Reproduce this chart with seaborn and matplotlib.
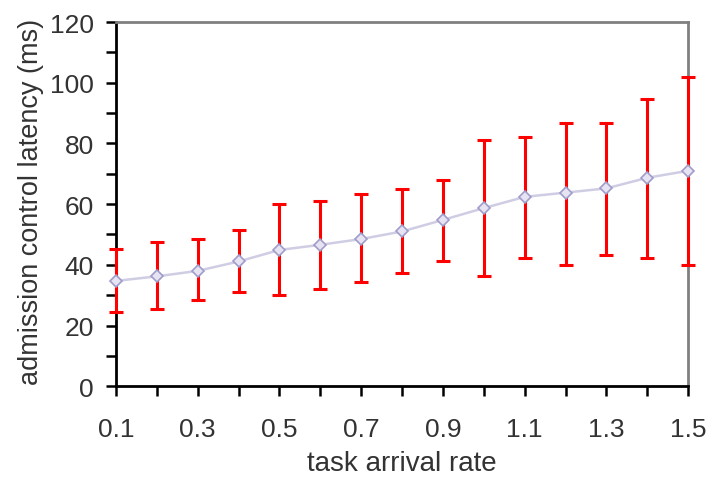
import numpy as np
import pandas as pd
import seaborn as sns
import matplotlib.pyplot as plt
from matplotlib.ticker import MultipleLocator

# values
rate = [0.1, 0.2, 0.3, 0.4, 0.5, 0.6, 0.7, 0.8, 0.9, 1.0, 1.1, 1.2, 1.3, 1.4, 1.5]
latency = [34.7, 36.2, 38.0, 41.1, 44.9, 46.6, 48.5, 51.0, 54.8, 58.7, 62.4, 63.8, 65.2, 68.7, 71.0]
upper = [45.2, 47.4, 48.5, 51.4, 60.2, 61.2, 63.2, 65.1, 68.1, 81.0, 82.1, 86.9, 86.9, 94.8, 102.0]
lower = [24.3, 25.3, 28.3, 31.2, 30.2, 32.2, 34.2, 37.2, 41.1, 36.2, 42.1, 40.1, 43.1, 42.1, 40.1]

data = pd.DataFrame({"rate": rate, "latency": latency, "upper": upper, "lower": lower})

sns.set_style("white")
plt.rcParams["font.family"] = ["Liberation Sans", "DejaVu Sans"]

fig = plt.figure(figsize=(7.11, 4.81), dpi=100)
ax = fig.add_axes([0.163, 0.195, 0.805, 0.757])

# red error bars (drawn over the spines, like the reference)
eb = ax.errorbar(
    data["rate"], data["latency"],
    yerr=[data["latency"] - data["lower"], data["upper"] - data["latency"]],
    fmt="none", ecolor="#ff0000", elinewidth=2.2, capsize=5, capthick=2.2, zorder=4
)
for art in eb.lines[1] + eb.lines[2]:
    art.set_clip_on(False)

# mean line
sns.lineplot(
    data=data, x="rate", y="latency", ax=ax,
    color="#cfcde3", linewidth=1.8, marker="D", markersize=6,
    markerfacecolor="#e6e4f2", markeredgecolor="#a09cca", markeredgewidth=1.2,
    zorder=5, clip_on=False
)

ax.set_xlim(0.1, 1.5)
ax.set_ylim(0, 120)
ax.xaxis.set_minor_locator(MultipleLocator(0.1))
ax.yaxis.set_major_locator(MultipleLocator(20))
ax.yaxis.set_minor_locator(MultipleLocator(10))
ax.set_xticks([0.1, 0.3, 0.5, 0.7, 0.9, 1.1, 1.3, 1.5])
ax.set_xticklabels(["0.1", "0.3", "0.5", "0.7", "0.9", "1.1", "1.3", "1.5"])

ax.tick_params(which="both", direction="out", color="black", width=1.8, length=7,
               bottom=True, left=True, top=False, right=False)
ax.tick_params(which="major", labelsize=19, labelcolor="#333333")
ax.tick_params(axis="y", which="major", pad=9)
ax.tick_params(axis="x", which="major", pad=15)

for side in ["left", "bottom"]:
    ax.spines[side].set_color("black")
    ax.spines[side].set_linewidth(2)
for side in ["top", "right"]:
    ax.spines[side].set_color("#808080")
    ax.spines[side].set_linewidth(2)

ax.set_xlabel("task arrival rate", fontsize=20, color="#333333", labelpad=7)
ax.set_ylabel("admission control latency (ms)", fontsize=19.5, color="#333333")
ax.yaxis.set_label_coords(-0.125, 0.51)

fig.savefig("out.png", dpi=100)
